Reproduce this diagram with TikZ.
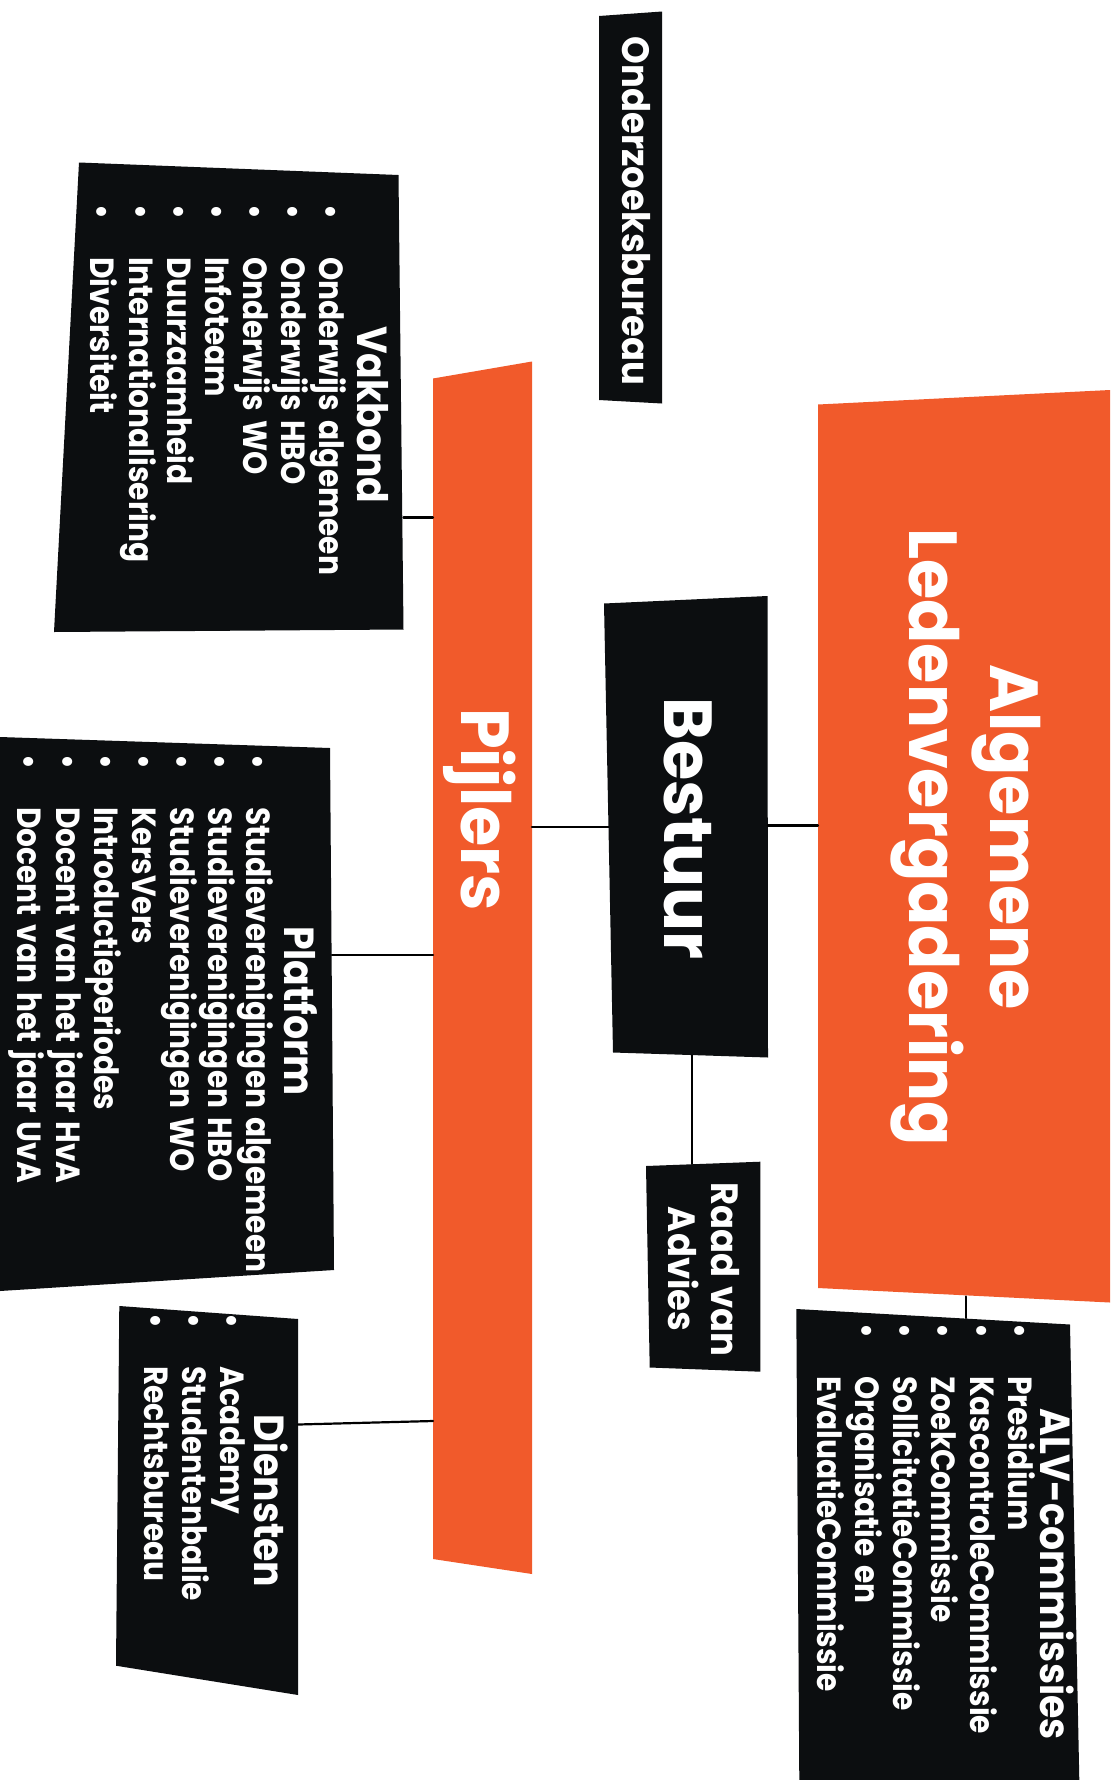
\documentclass[tikz,border=0pt]{standalone}
\usepackage{fontspec}
\setmainfont{Poppins}[FakeStretch=0.885,WordSpace=1.4]
\newfontfamily\kopfont{Poppins}[FakeStretch=0.9]
\newfontfamily\midfont{Poppins}[FakeStretch=0.93,WordSpace=1.2]
\newfontfamily\grootfont{Poppins}[FakeStretch=0.96]
\usepackage{tkz-euclide}
\definecolor{alvoranje}{HTML}{F15A2B}
\definecolor{vlakzwart}{HTML}{0C0E10}
\newcommand{\blt}{\llap{\textbullet\hspace{38pt}}}
\tikzset{
  tekst/.style={rotate=-90,text=white,inner sep=0pt},
  lijst/.style={tekst,anchor=base west,font=\bfseries\fontsize{33.5}{37.8}\selectfont},
  kop/.style={tekst,anchor=base,font=\kopfont\bfseries\fontsize{42}{48}\selectfont},
  mid/.style={tekst,anchor=base,font=\midfont\bfseries\fontsize{38}{43.3}\selectfont},
  groot/.style={tekst,anchor=base,font=\grootfont\bfseries\fontsize{68}{81}\selectfont}
}

\begin{document}
\begin{tikzpicture}[x=1pt,y=-1pt]
\path[use as bounding box,fill=white] (0,0) rectangle (1118,1780);
\tkzSetUpLine[line width=2.2pt,color=black]

\tkzDefPoints{599/16/ozbA,662/11.5/ozbB,662/403.5/ozbC,599/400/ozbD}
\tkzDefPoints{79/162.5/vakA,398.5/175/vakB,403.5/629.5/vakC,54/632/vakD}
\tkzDefPoints{0/737/plaA,330/748/plaB,334/1270/plaC,0/1291/plaD}
\tkzDefPoints{119.3/1306/dieA,298/1319/dieB,298/1695/dieC,116/1665.7/dieD}
\tkzDefPoints{433/378.5/pijA,532/361.5/pijB,532/1574/pijC,433/1559/pijD}
\tkzDefPoints{604/603.5/besA,767.5/596/besB,768/1057.5/besC,613/1052.5/besD}
\tkzDefPoints{646/1166/radA,760.3/1161.7/radB,760.3/1371.7/radC,649.7/1367.5/radD}
\tkzDefPoints{818/404.5/alvA,1110/390/alvB,1110/1302.5/alvC,818/1288/alvD}
\tkzDefPoints{796.3/1309/comA,1070/1324.5/comB,1079.3/1780/comC,799.3/1780/comD}

\tkzDefPoints{403.5/517.4/vakP,433/517.4/pijV,332/955/plaP,433/955/pijP,298/1424.5/dieP,433/1421/pijQ}
\tkzDefPoints{532/826.7/pijR,608.5/826.7/besP,767.7/825.4/besQ,818/825.4/alvP}
\tkzDefPoints{692.3/1055.5/besS,692.3/1164/radP,966/1296.5/alvS,966/1318/comP}

\tkzFillPolygon[color=vlakzwart](ozbA,ozbB,ozbC,ozbD)
\tkzFillPolygon[color=vlakzwart](vakA,vakB,vakC,vakD)
\tkzFillPolygon[color=vlakzwart](plaA,plaB,plaC,plaD)
\tkzFillPolygon[color=vlakzwart](dieA,dieB,dieC,dieD)
\tkzFillPolygon[color=alvoranje](pijA,pijB,pijC,pijD)
\tkzFillPolygon[color=vlakzwart](besA,besB,besC,besD)
\tkzFillPolygon[color=vlakzwart](radA,radB,radC,radD)
\tkzFillPolygon[color=alvoranje](alvA,alvB,alvC,alvD)
\tkzFillPolygon[color=vlakzwart](comA,comB,comC,comD)

\tkzDrawSegments(vakP,pijV plaP,pijP dieP,pijQ pijR,besP besQ,alvP besS,radP alvS,comP)

\node[mid,anchor=base west] (ozbt) at (622,36.7) {Onderzoeksbureau};
\node[kop] (vakt) at (357,414.8) {Vakbond};
\node[lijst] (vakl) at (319.5,257) {\begin{tabular}[t]{@{}l@{}}
  \blt Onderwijs algemeen\\ \blt Onderwijs HBO\\ \blt Onderwijs WO\\ \blt Infoteam\\
  \blt Duurzaamheid\\ \blt Internationalisering\\ \blt Diversiteit\end{tabular}};
\node[kop] (plat) at (284,1011) {Platform};
\node[lijst] (plal) at (246.5,807) {\begin{tabular}[t]{@{}l@{}}
  \blt Studieverenigingen algemeen\\ \blt Studieverenigingen HBO\\ \blt Studieverenigingen WO\\
  \blt KersVers\\ \blt Introductieperiodes\\ \blt Docent van het jaar HvA\\ \blt Docent van het jaar UvA\end{tabular}};
\node[kop] (diet) at (254.5,1501) {Diensten};
\node[lijst] (diel) at (220.5,1366) {\begin{tabular}[t]{@{}l@{}}
  \blt Academy\\ \blt Studentenbalie\\ \blt Rechtsbureau\end{tabular}};
\node[groot] (pijt) at (461,809.7) {Pijlers};
\node[groot] (best) at (664.3,828.5) {Bestuur};
\node[mid] (radt) at (711.7,1269) {\begin{tabular}[t]{@{}c@{}}Raad van\\ Advies\end{tabular}};
\node[groot] (alvt) at (990,837) {\begin{tabular}[t]{@{}c@{}}Algemene\\ Ledenvergadering\end{tabular}};
\node[kop] (comt) at (1040.7,1574) {ALV-commissies};
\node[lijst] (coml) at (1008.3,1376) {\begin{tabular}[t]{@{}l@{}}
  \blt Presidium\\ \blt KascontroleCommissie\\ \blt ZoekCommissie\\ \blt SollicitatieCommissie\\
  \blt Organisatie en\\ EvaluatieCommissie\end{tabular}};

\end{tikzpicture}
\end{document}
